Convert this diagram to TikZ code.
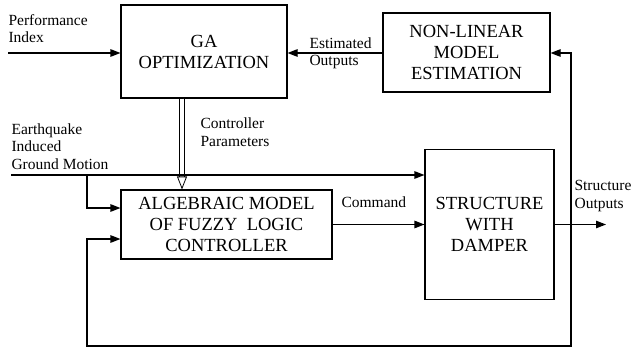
\documentclass[tikz,border=0pt]{standalone}
\usepackage{fontspec}
\setmainfont{Liberation Serif}
\newfontfamily\tms{Liberation Serif}
\usetikzlibrary{arrows.meta,positioning}

\begin{document}
\begin{tikzpicture}[x=1pt, y=-1pt, line width=1.1pt,
    block/.style={draw, align=center, inner sep=0pt, font=\tms\fontsize{18.5}{21}\selectfont},
    lbl/.style={align=left, inner sep=0pt, anchor=base west, font=\tms\fontsize{15.5}{17.5}\selectfont},
    arr/.style={-{Triangle[length=10pt, width=7.5pt]}},
    dblarr/.style={double=white, double distance=4.5pt, line width=0.8pt,
      -{Triangle[open, length=13pt, width=10pt]}}]
  \useasboundingbox (0,0) rectangle (631,350);
  % blocks
  \node[block, minimum width=166pt, minimum height=93pt] (ga) at (204,51.5) {GA\\OPTIMIZATION};
  \node[block, minimum width=167pt, minimum height=79pt] (nle) at (466.5,52.5) {NON-LINEAR\\MODEL\\ESTIMATION};
  \node[block, minimum width=211pt, minimum height=69pt] (flc) at (226.5,224.5) {ALGEBRAIC MODEL\\OF FUZZY\ \ LOGIC\\CONTROLLER};
  \node[block, minimum width=129pt, minimum height=150pt] (sd) at (489.5,224.5) {STRUCTURE\\WITH\\DAMPER};
  % free ends and bends
  \coordinate (perfin) at (8,53);
  \coordinate (eqin) at (11,175);
  \coordinate (split) at (87,175);
  \coordinate (ctrlx) at (182,0);
  \coordinate (tap) at (571,224.5);
  \coordinate (outend) at (606,224.5);
  \coordinate (fbbot) at (87,346);
  \coordinate (fbin) at (87,239);
  \coordinate (eqbr) at (87,208);
  % connectors
  \draw[dblarr] (ga.south -| ctrlx) -- (flc.north -| ctrlx);
  \draw[arr] (perfin) -- (perfin -| ga.west);
  \draw[arr] (nle.west |- perfin) -- (perfin -| ga.east);
  \draw[arr] (eqin) -- (eqin -| sd.west);
  \draw[arr] (split) -- (eqbr) -- (eqbr -| flc.west);
  \draw[arr] (flc.east) -- (sd.west);
  \draw[arr] (sd.east) -- (outend);
  \draw[arr] (tap) -- (tap |- perfin) -- (perfin -| nle.east);
  \draw[arr] (tap) -- (tap |- fbbot) -- (fbbot) -- (fbin) -- (fbin -| flc.west);
  % labels (anchored at the baseline of the last line)
  \node[lbl] (perflbl) at (8,43) {Performance\\Index};
  \node[lbl, font=\tms\fontsize{15.5}{16.5}\selectfont] (estlbl) at (309,65.5) {Estimated\\Outputs};
  \node[lbl] (parlbl) at (200,146) {Controller\\Parameters};
  \node[lbl] (eqlbl) at (11,169) {Earthquake\\Induced\\Ground Motion};
  \node[lbl] (cmdlbl) at (341,207) {Command};
  \node[lbl] (outlbl) at (574,208) {Structure\\Outputs};
\end{tikzpicture}
\end{document}
